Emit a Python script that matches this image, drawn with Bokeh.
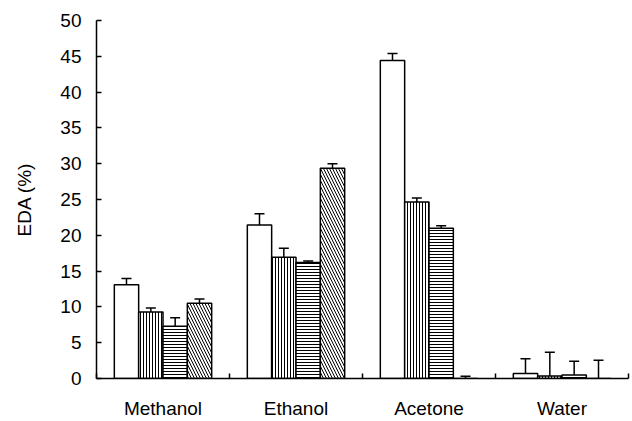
from bokeh.plotting import figure
from bokeh.models import Range1d, FixedTicker, ColumnDataSource, Whisker, TeeHead
from bokeh.embed import file_html
from bokeh.resources import INLINE

categories = ["Methanol", "Ethanol", "Acetone", "Water"]
# four series (white, vertical lines, horizontal lines, diagonal lines)
s1 = [13.1, 21.45, 44.4, 0.7]
s1_err = [0.85, 1.55, 1.0, 2.05]
s2 = [9.3, 16.95, 24.65, 0.35]
s2_err = [0.55, 1.25, 0.55, 3.3]
s3 = [7.3, 16.2, 21.0, 0.5]
s3_err = [1.2, 0.2, 0.35, 1.9]
s4 = [10.5, 29.35, 0.0, 0.0]
s4_err = [0.6, 0.65, 0.3, 2.55]

series = [s1, s2, s3, s4]
errors = [s1_err, s2_err, s3_err, s4_err]
hatches = [" ", "|", "-", "\\"]
hatch_scales = [3, 3, 3, 6]

p = figure(width=632, height=421, output_backend="svg", toolbar_location=None,
           x_range=Range1d(0, 4), y_range=Range1d(0, 50),
           min_border_left=96, min_border_right=4, min_border_top=20, min_border_bottom=40)
p.grid.visible = False
p.outline_line_color = None
p.background_fill_color = "white"
p.border_fill_color = "white"

bw = 0.183
offsets = [-1.5 * bw, -0.5 * bw, 0.5 * bw, 1.5 * bw]
for vals, errs, h, hs, off in zip(series, errors, hatches, hatch_scales, offsets):
    xs = [i + 0.5 + off for i in range(len(categories))]
    src = ColumnDataSource(dict(x=xs, top=vals, upper=[v + e for v, e in zip(vals, errs)]))
    w = Whisker(base="x", upper="upper", lower="top", source=src,
                line_color="black", line_width=1.5,
                upper_head=TeeHead(size=10, line_color="black", line_width=1.5),
                lower_head=None)
    p.add_layout(w)
    p.vbar(x="x", top="top", width=bw, bottom=0, source=src,
           fill_color="white", line_color="black", line_width=1.5,
           hatch_pattern=h, hatch_scale=hs, hatch_weight=1, hatch_color="black")

font = "Liberation Sans"
# x axis
p.xaxis.ticker = FixedTicker(ticks=[i + 0.5 for i in range(len(categories))],
                             minor_ticks=list(range(len(categories) + 1)))
p.xaxis.major_label_overrides = {i + 0.5: c for i, c in enumerate(categories)}
p.xaxis.major_tick_in = 0
p.xaxis.major_tick_out = 0
p.xaxis.minor_tick_in = 5
p.xaxis.minor_tick_out = 0
p.xaxis.minor_tick_line_width = 1.5
p.xaxis.axis_line_width = 1.5
p.xaxis.axis_line_color = "black"
p.xaxis.major_label_text_font = font
p.xaxis.major_label_text_font_size = "19px"
p.xaxis.major_label_text_color = "black"
p.xaxis.major_label_standoff = 19

# y axis
p.yaxis.ticker = FixedTicker(ticks=list(range(0, 51, 5)))
p.yaxis.major_tick_in = 5
p.yaxis.major_tick_out = 0
p.yaxis.minor_tick_line_color = None
p.yaxis.major_tick_line_width = 1.5
p.yaxis.axis_line_width = 1.5
p.yaxis.axis_line_color = "black"
p.yaxis.major_label_text_font = font
p.yaxis.major_label_text_font_size = "19px"
p.yaxis.major_label_text_color = "black"
p.yaxis.major_label_standoff = 15
p.yaxis.axis_label = "EDA (%)"
p.yaxis.axis_label_text_font = font
p.yaxis.axis_label_text_font_size = "19px"
p.yaxis.axis_label_text_font_style = "normal"
p.yaxis.axis_label_text_color = "black"
p.yaxis.axis_label_standoff = 22

open("out.html", "w").write(file_html(p, INLINE))
